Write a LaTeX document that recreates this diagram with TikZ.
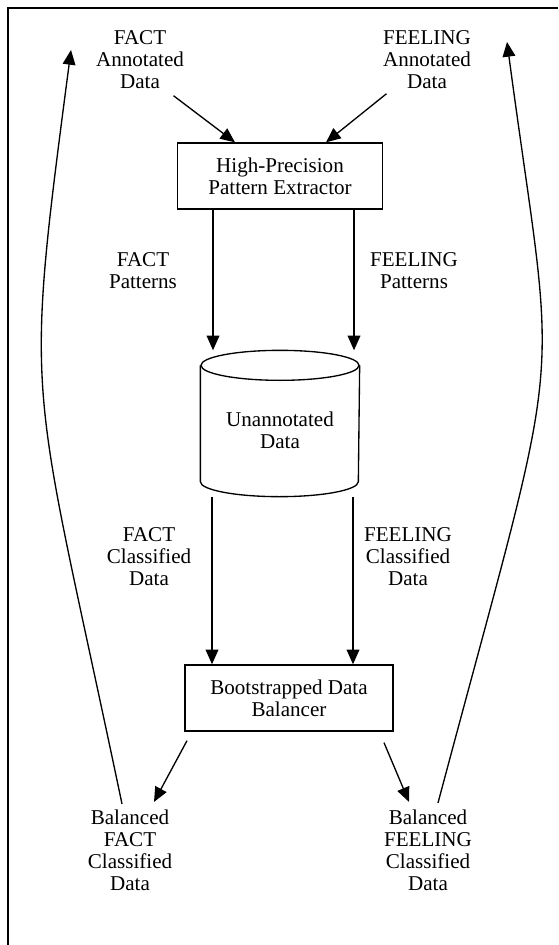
\documentclass[tikz,border=0pt]{standalone}
\usepackage{fontspec}
\setmainfont{Liberation Serif}
\usetikzlibrary{shapes,arrows.meta,positioning,calc}

\begin{document}
\begin{tikzpicture}[
    x=0.75pt, y=-0.75pt,
    line width=1pt,
    txt/.style={align=center, inner sep=0pt, font=\fontsize{15.8}{16.5}\selectfont},
    process/.style={rectangle, draw, align=center, minimum height=49.5pt, font=\fontsize{15.8}{16.5}\selectfont},
    dbbox/.style={rectangle, inner sep=0pt, minimum width=118.5pt, minimum height=108.75pt},
    arr/.style={-{Triangle[length=11pt,width=9.5pt]}}
]
\useasboundingbox (0,0) rectangle (558,945);
\draw (8,945) -- (8,8) -- (558,8);

\node[txt] (factann) at (140,60) {FACT\\Annotated\\Data};
\node[txt] (feelann) at (427,60) {FEELING\\Annotated\\Data};
\node[process, minimum width=153.75pt] (extractor) at (280,176) {High-Precision\\Pattern Extractor};

\node[txt] (factpat) at (143,271) {FACT\\Patterns};
\node[txt] (feelpat) at (414,271) {FEELING\\Patterns};

% database cylinder
\node[dbbox] (unann) at (280,423.5) {};
\draw ([shift={(0,15)}]unann.north) ellipse [x radius=59.25pt, y radius=11.25pt];
\draw ([shift={(0,15)}]unann.north west) -- ([shift={(0,-15)}]unann.south west)
    arc [start angle=180, end angle=360, x radius=59.25pt, y radius=11.25pt]
    -- ([shift={(0,15)}]unann.north east);
\node[txt] (unanntxt) at (280,430) {Unannotated\\Data};

\node[txt] (factcls) at (149,557) {FACT\\Classified\\Data};
\node[txt] (feelcls) at (408,557) {FEELING\\Classified\\Data};
\node[process, minimum width=156pt] (balancer) at (289,698) {Bootstrapped Data\\Balancer};

\node[txt] (balfact) at (130,850) {Balanced\\FACT\\Classified\\Data};
\node[txt] (balfeel) at (428,850) {Balanced\\FEELING\\Classified\\Data};

\coordinate (backfact) at (71,50);
\coordinate (backfeel) at (507,42);

\draw[arr] ([shift={(-11,6)}]factann.south east) -- ([shift={(-45,0)}]extractor.north);
\draw[arr] ([shift={(4,4)}]feelann.south west) -- ([shift={(46,0)}]extractor.north);

\draw[arr] ([shift={(-67,0)}]extractor.south) -- ([shift={(-67,0)}]extractor.south |- unann.north);
\draw[arr] ([shift={(74,0)}]extractor.south) -- ([shift={(74,0)}]extractor.south |- unann.north);

\draw[arr] ([shift={(-68,0)}]unann.south) -- ([shift={(-68,0)}]unann.south |- balancer.north);
\draw[arr] ([shift={(73,0)}]unann.south) -- ([shift={(73,0)}]unann.south |- balancer.north);

\draw[arr] ([shift={(-102,9)}]balancer.south) -- ([shift={(24,-7)}]balfact.north);
\draw[arr] ([shift={(95,11)}]balancer.south) -- ([shift={(-19,-7)}]balfeel.north);

% feedback loops
\draw[arr] ([shift={(-8,-5)}]balfact.north) .. controls (30,365) and (23,416) .. (backfact);
\draw[arr] ([shift={(10,-6)}]balfeel.north) .. controls (568,315) and (557,416) .. (backfeel);

\end{tikzpicture}
\end{document}
